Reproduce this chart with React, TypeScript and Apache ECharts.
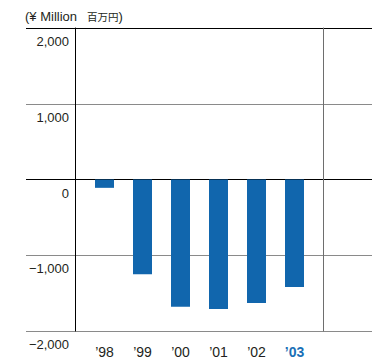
import React, { useEffect, useRef } from "react";
import * as echarts from "echarts";

const categories = ["’98", "’99", "’00", "’01", "’02", "’03"];
const values = [-110, -1250, -1680, -1710, -1630, -1420];
const yTicks = { min: -2000, max: 2000, interval: 1000 };
const unitLatin = "(¥ Million";
const unitCJK = "百万円";

const FONT = "'Liberation Sans', Arial, Helvetica, sans-serif";
const BLUE = "#1166ad";
const TEXT = "#231f20";

export default function App() {
  const ref = useRef<HTMLDivElement>(null);
  useEffect(() => {
    document.body.style.margin = "0";
    const chart = echarts.init(ref.current!, null, { renderer: "svg" });
    const top = 28;
    const bottom = 31;
    chart.setOption({
      animation: false,
      textStyle: { fontFamily: FONT, color: TEXT },
      title: {
        text: `{a|${unitLatin}}  {b|${unitCJK}}{a|)}`,
        left: 25,
        top: 7,
        padding: 0,
        textStyle: {
          fontWeight: "normal",
          rich: {
            a: { fontFamily: FONT, fontSize: 13, fontWeight: "normal", color: TEXT, lineHeight: 16 },
            b: { fontFamily: "'Noto Sans CJK JP', sans-serif", fontSize: 10.5, fontWeight: "normal", color: TEXT, lineHeight: 16 },
          },
        },
      },
      grid: [
        { left: 26, right: 2, top, bottom },
        { left: 85.5, right: 60.5, top, bottom },
        { left: 75.5, right: 51, top, bottom },
      ],
      xAxis: [
        { gridIndex: 0, type: "value", min: 0, max: 1, show: false },
        {
          gridIndex: 1,
          type: "category",
          data: categories.map((c, i) =>
            i === categories.length - 1
              ? { value: c, textStyle: { color: "#1a70b6", fontWeight: "bold" } }
              : { value: c }
          ),
          axisLine: { show: false },
          axisTick: { show: false },
          axisLabel: { fontSize: 14, color: TEXT, fontFamily: FONT, margin: 14 },
        },
        { gridIndex: 2, type: "value", min: 0, max: 1, show: false },
      ],
      yAxis: [
        {
          gridIndex: 0,
          type: "value",
          min: yTicks.min,
          max: yTicks.max,
          interval: yTicks.interval,
          axisLine: { show: false },
          axisTick: { show: false },
          splitLine: {
            show: true,
            lineStyle: { color: ["#8a8a8a", "#8a8a8a", "#000000", "#8a8a8a", "#000000"], width: 1 },
          },
          axisLabel: {
            inside: true,
            align: "right",
            verticalAlign: "top",
            margin: 43,
            padding: [7, 0, 0, 0],
            fontSize: 13,
            color: TEXT,
            fontFamily: FONT,
            formatter: (v: number) => {
              const s = Math.abs(v).toLocaleString("en-US");
              return v < 0 ? "\u2212" + s : s;
            },
          },
        },
        {
          gridIndex: 1,
          type: "value",
          min: yTicks.min,
          max: yTicks.max,
          interval: yTicks.interval,
          show: false,
        },
        {
          gridIndex: 2,
          type: "value",
          position: "left",
          min: yTicks.min,
          max: yTicks.max,
          interval: yTicks.interval,
          axisLine: { show: true, lineStyle: { color: "#000", width: 1 } },
          axisTick: { show: false },
          axisLabel: { show: false },
          splitLine: { show: false },
        },
        {
          gridIndex: 2,
          type: "value",
          position: "right",
          min: yTicks.min,
          max: yTicks.max,
          interval: yTicks.interval,
          axisLine: { show: true, lineStyle: { color: "#6e6e6e", width: 1 } },
          axisTick: { show: false },
          axisLabel: { show: false },
          splitLine: { show: false },
        },
      ],
      series: [
        {
          type: "bar",
          xAxisIndex: 1,
          yAxisIndex: 1,
          data: values,
          barWidth: 19,
          itemStyle: { color: BLUE },
        },
      ],
    });
    return () => chart.dispose();
  }, []);
  return <div ref={ref} style={{ width: 374, height: 362 }} />;
}
